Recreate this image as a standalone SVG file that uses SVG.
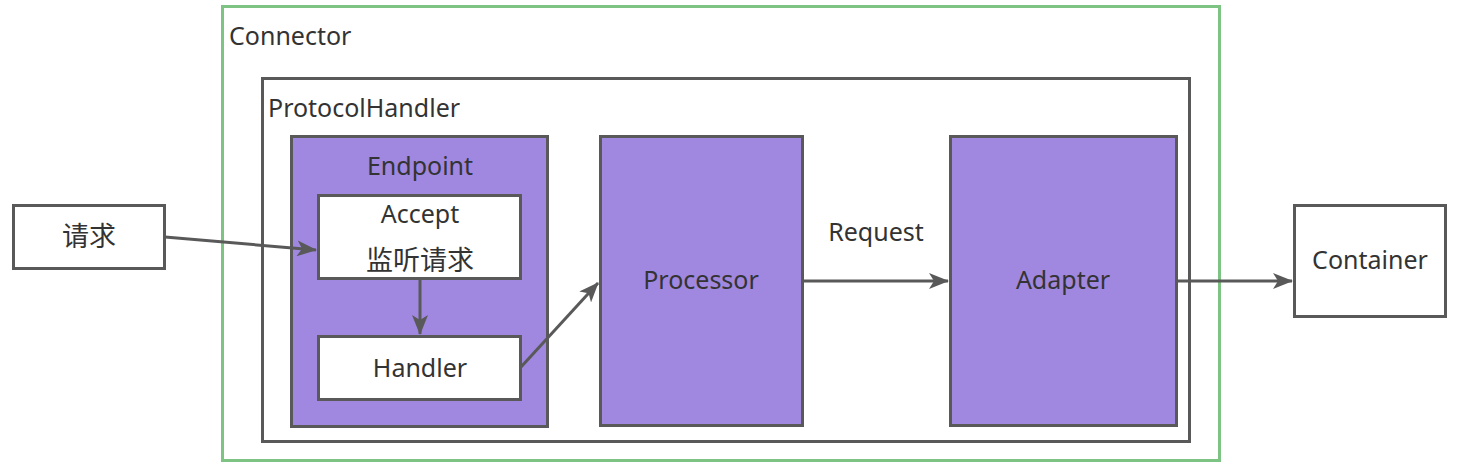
<svg xmlns="http://www.w3.org/2000/svg" width="1464" height="466" viewBox="0 0 1464 466">
<style>
text{font-family:"Noto Sans","Open Sans","Noto Sans CJK SC",sans-serif;font-size:25px;fill:#333333}
.cjk{font-size:27px}
.c{text-anchor:middle}
.box{stroke:#595959;stroke-width:3}
.p{fill:#a087e0}
.w{fill:#ffffff}
.ln{stroke:#595959;stroke-width:3;fill:none}
</style>
<defs>
<marker id="ah" markerWidth="20" markerHeight="16" refX="19" refY="8" orient="auto" markerUnits="userSpaceOnUse" viewBox="0 0 20 16">
<path d="M0,0 L20,8 L0,16 L5,8 Z" fill="#595959"/>
</marker>
</defs>
<rect width="1464" height="466" fill="#ffffff"/>
<g id="connector">
<rect x="222.5" y="6.5" width="997" height="454" fill="#ffffff" stroke="#7dc383" stroke-width="3"/>
<text x="229" y="45">Connector</text>
</g>
<g id="protocolhandler">
<rect x="262.5" y="78.5" width="927" height="363" class="box w"/>
<text x="268" y="117">ProtocolHandler</text>
</g>
<g id="endpoint">
<rect x="291.5" y="136.5" width="256" height="290" class="box p"/>
<text x="420" y="175" class="c">Endpoint</text>
</g>
<g id="accept">
<rect x="318.5" y="195.5" width="202" height="83" class="box w"/>
<text x="420" y="223" class="c">Accept</text>
<text x="420" y="270" class="c cjk">监听请求</text>
</g>
<g id="handler">
<rect x="318.5" y="336.5" width="202" height="63" class="box w"/>
<text x="420" y="377" class="c">Handler</text>
</g>
<g id="processor">
<rect x="600.5" y="136.5" width="202" height="289" class="box p"/>
<text x="701" y="289" class="c">Processor</text>
</g>
<g id="adapter">
<rect x="950.5" y="136.5" width="226" height="289" class="box p"/>
<text x="1063" y="289" class="c">Adapter</text>
</g>
<g id="request-src">
<rect x="13.5" y="205.5" width="151" height="63" class="box w"/>
<text x="89" y="246" class="c cjk">请求</text>
</g>
<g id="container">
<rect x="1294.5" y="205.5" width="151" height="111" class="box w"/>
<text x="1370" y="269" class="c">Container</text>
</g>
<g id="connectors">
<line x1="165" y1="237" x2="316" y2="250" class="ln" marker-end="url(#ah)"/>
<line x1="420" y1="280" x2="420" y2="334" class="ln" marker-end="url(#ah)"/>
<line x1="521" y1="367" x2="598" y2="283" class="ln" marker-end="url(#ah)"/>
<line x1="803" y1="281" x2="948" y2="281" class="ln" marker-end="url(#ah)"/>
<line x1="1177" y1="281" x2="1292" y2="281" class="ln" marker-end="url(#ah)"/>
<text x="876" y="241" class="c">Request</text>
</g>
</svg>
